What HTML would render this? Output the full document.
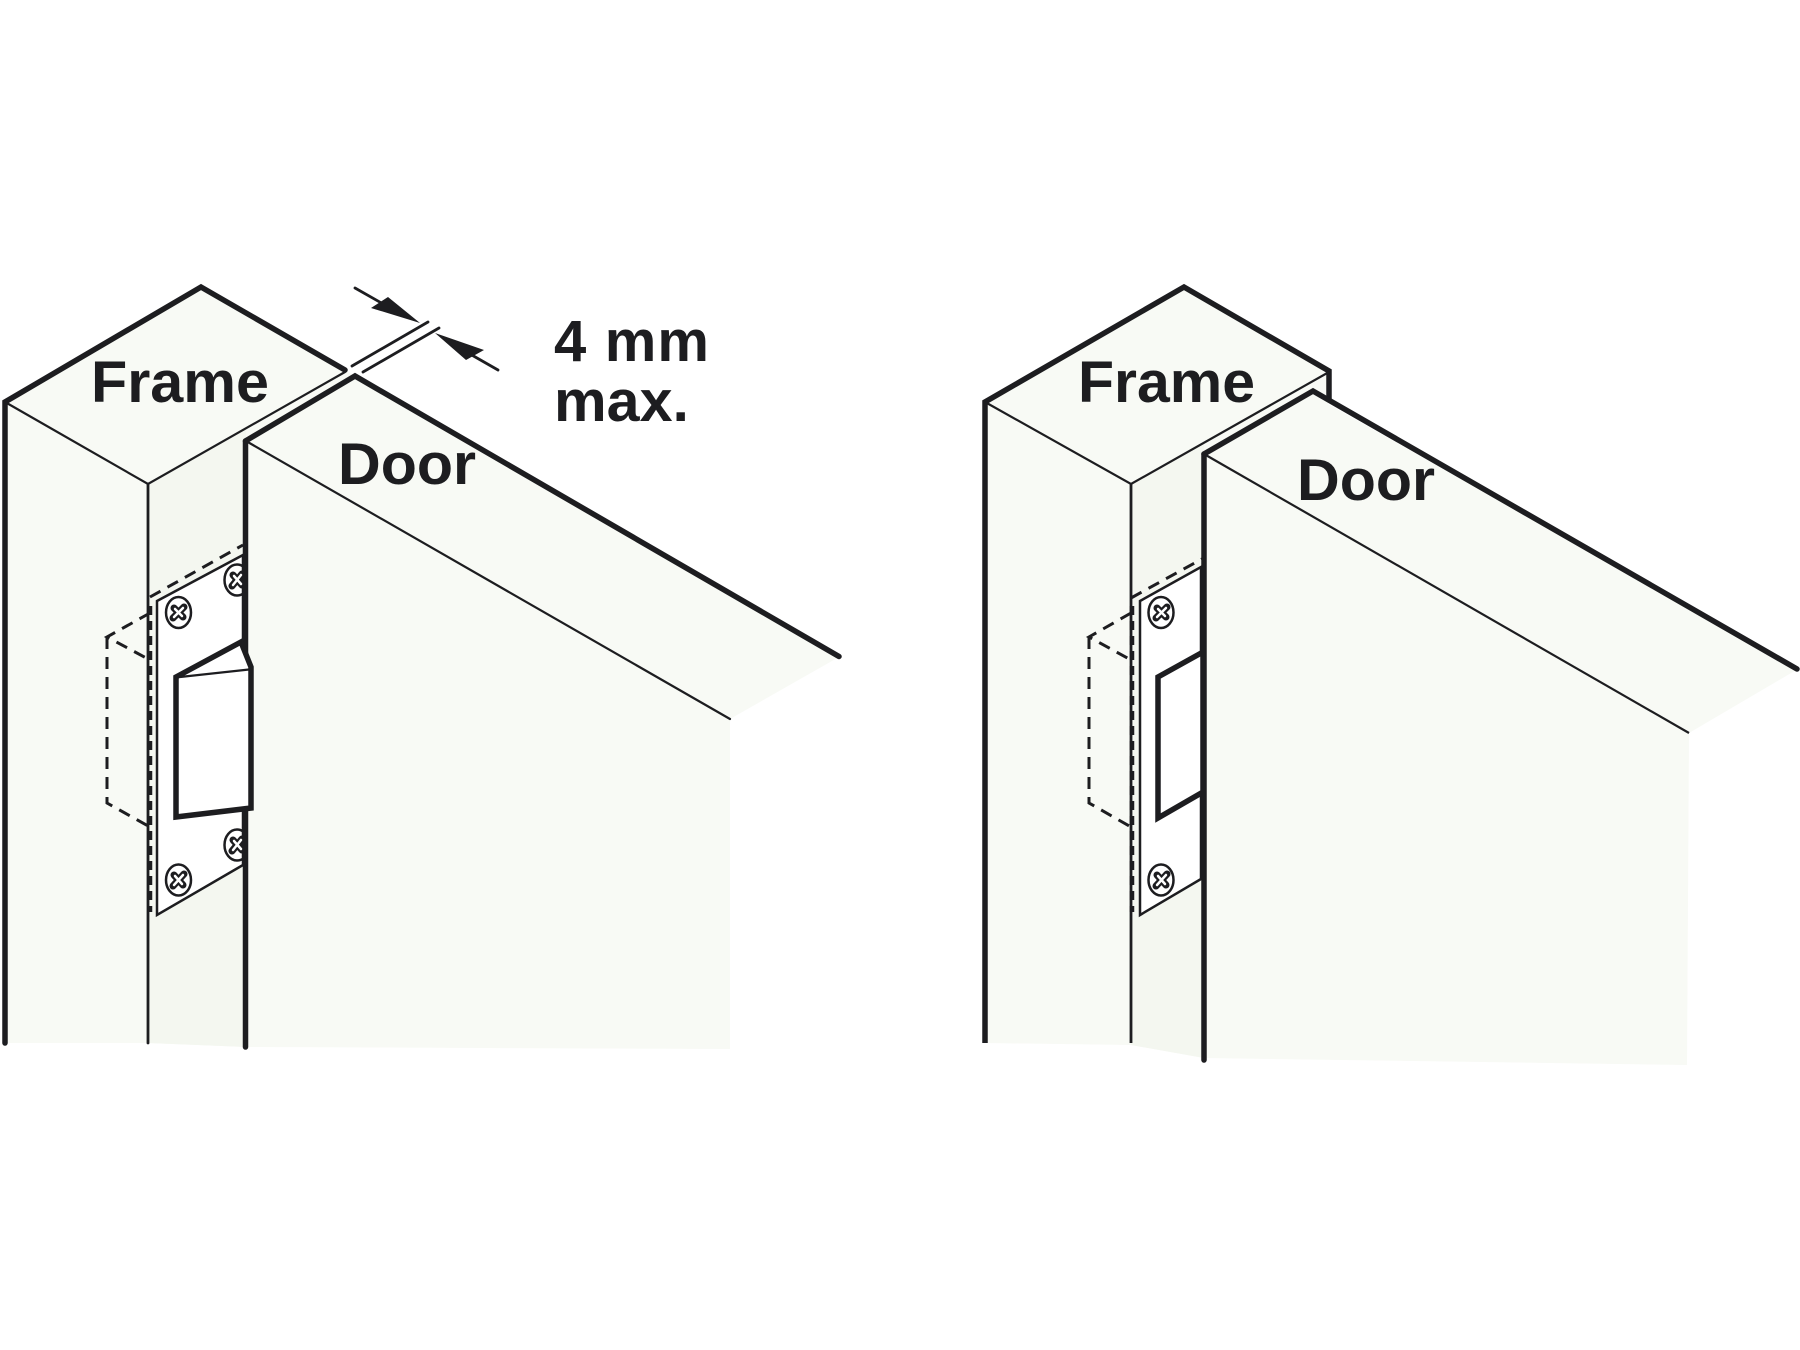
<!DOCTYPE html>
<html>
<head>
<meta charset="utf-8">
<style>
html,body{margin:0;padding:0;background:#fff;}
svg{display:block;}
text{font-family:"Liberation Sans",Arial,sans-serif;font-weight:700;font-size:58px;fill:#1d1d20;}
</style>
</head>
<body>
<svg width="1800" height="1350" viewBox="0 0 1800 1350" xmlns="http://www.w3.org/2000/svg">
<defs>
  <clipPath id="c1"><rect x="100" y="500" width="143" height="450"/></clipPath>
</defs>
<rect width="1800" height="1350" fill="#fff"/>

<!-- LEFT FIGURE -->
<polygon points="5,402 201,287 346,370 354,376 839,657 730,719 730,1049 246,1047 148,1043 5,1043" fill="#f8faf5"/>
<polygon points="148,484 246,428 246,1047 148,1043" fill="#f4f7f0"/>

<!-- dashed recess -->
<g fill="none" stroke="#1d1d20" stroke-width="3" stroke-dasharray="12 8">
  <line x1="150" y1="597" x2="243" y2="545"/>
  <polyline points="150,613 107,637 150,660"/>
  <polyline points="107,637 107,803 150,827"/>
</g>
<line x1="150" y1="606" x2="150" y2="912" stroke="#1d1d20" stroke-width="4.500" stroke-dasharray="9 6"/>

<!-- strike plate -->
<polygon points="157,601 243,555 243,865 157,915" fill="#fff" stroke="#1d1d20" stroke-width="2.500"/>
<g clip-path="url(#c1)">
  <g fill="none" stroke="#1d1d20" stroke-width="2.500">
    <ellipse cx="178.500" cy="612.500" rx="12.500" ry="15.500"/>
    <ellipse cx="178.500" cy="880" rx="12.500" ry="15.500"/>
    <ellipse cx="237" cy="580" rx="12.500" ry="15.500"/>
    <ellipse cx="237" cy="845" rx="12.500" ry="15.500"/>
  </g>
  <g fill="none" stroke="#1d1d20" stroke-width="7" stroke-linecap="round">
    <path d="M173,618L184,607M174,608L183,617"/>
    <path d="M173,886L184,874M174,875L183,885"/>
    <path d="M232,586L242,574M233,575L242,585"/>
    <path d="M232,851L242,839M233,840L242,850"/>
  </g>
  <g fill="none" stroke="#fff" stroke-width="2.500" stroke-linecap="round">
    <path d="M174,617L183,608M175,609L182,616"/>
    <path d="M174,885L183,875M175,876L182,884"/>
    <path d="M233,585L241,575M234,576L241,584"/>
    <path d="M233,850L241,840M234,841L241,849"/>
  </g>
</g>

<!-- frame lines -->
<g fill="none" stroke="#1d1d20" stroke-linecap="round" stroke-linejoin="miter">
  <polyline points="5,1043 5,402 201,287 345,370" stroke-width="5.500"/>
  <polyline points="5,402 148,484 345,372" stroke-width="2.200"/>
  <line x1="148" y1="484" x2="148" y2="1043" stroke-width="2.800"/>
  <!-- door -->
  <line x1="245.500" y1="1047" x2="245.500" y2="441" stroke-width="5.500"/>
  <polyline points="245.500,441 355,376 839,656.500" stroke-width="5.500"/>
  <line x1="246" y1="441" x2="730" y2="719" stroke-width="2.200"/>
</g>

<!-- latch -->
<polygon points="176,677 241,642 251,667 251,808 176,817" fill="#fff" stroke="#1d1d20" stroke-width="5.500"/>
<line x1="180" y1="677" x2="249" y2="669.500" stroke="#1d1d20" stroke-width="2.200"/>

<!-- dimension -->
<g stroke="#1d1d20" stroke-linecap="round" fill="none">
  <line x1="355" y1="288" x2="385" y2="305" stroke-width="2.800"/>
  <line x1="352" y1="366" x2="428" y2="322" stroke-width="2.800"/>
  <line x1="363" y1="372" x2="439" y2="328" stroke-width="2.800"/>
  <line x1="470" y1="354" x2="498" y2="370" stroke-width="2.800"/>
</g>
<polygon points="420,323 388,297 371,308" fill="#1d1d20"/>
<polygon points="435,333 484,350 466,360" fill="#1d1d20"/>

<text x="91" y="402" textLength="178" lengthAdjust="spacingAndGlyphs">Frame</text>
<text x="338" y="484" textLength="138" lengthAdjust="spacingAndGlyphs">Door</text>
<text x="554" y="361" textLength="155" lengthAdjust="spacing">4 mm</text>
<text x="554" y="421" textLength="135" lengthAdjust="spacingAndGlyphs">max.</text>

<!-- RIGHT FIGURE -->
<polygon points="985,402 1184,287 1328,371 1328,404 1798,669 1689,733 1687,1065 1204,1058 1131,1045 985,1043" fill="#f8faf5"/>
<polygon points="1131,484 1204,442 1204,1058 1131,1045" fill="#f4f7f0"/>

<g fill="none" stroke="#1d1d20" stroke-width="3" stroke-dasharray="12 8">
  <line x1="1131" y1="598" x2="1202" y2="559"/>
  <polyline points="1131,613 1089,637 1131,660"/>
  <polyline points="1089,637 1089,803 1131,827"/>
</g>
<line x1="1132" y1="606" x2="1132" y2="912" stroke="#1d1d20" stroke-width="4.500" stroke-dasharray="9 6"/>

<polygon points="1140,601 1201,567 1201,879 1140,915" fill="#fff" stroke="#1d1d20" stroke-width="2.500"/>
<g fill="none" stroke="#1d1d20" stroke-width="2.500">
  <ellipse cx="1161" cy="612.500" rx="12.500" ry="15.500"/>
  <ellipse cx="1161" cy="880" rx="12.500" ry="15.500"/>
</g>
<g fill="none" stroke="#1d1d20" stroke-width="7" stroke-linecap="round">
  <path d="M1156,618L1167,607M1157,608L1166,617"/>
  <path d="M1156,886L1167,874M1157,875L1166,885"/>
</g>
<g fill="none" stroke="#fff" stroke-width="2.500" stroke-linecap="round">
  <path d="M1157,617L1166,608M1158,609L1165,616"/>
  <path d="M1157,885L1166,875M1158,876L1165,884"/>
</g>
<polygon points="1158,677 1203,652 1203,792 1158,818" fill="#fff" stroke="#1d1d20" stroke-width="5.500"/>

<g fill="none" stroke="#1d1d20" stroke-linecap="butt" stroke-linejoin="miter">
  <polyline points="985,1043 985,402 1184,287 1329,371 1329,399" stroke-width="5.500"/>
  <polyline points="985,402 1131,484 1329,372" stroke-width="2.200"/>
  <line x1="1131" y1="484" x2="1131" y2="1043" stroke-width="2.800"/>
  <line x1="1204" y1="454" x2="1204" y2="1060" stroke-width="5.500" stroke-linecap="round"/>
  <polyline points="1204,454 1313,391 1797,669" stroke-width="5.500" stroke-linecap="round"/>
  <line x1="1204" y1="454" x2="1689" y2="733" stroke-width="2.200"/>
</g>

<text x="1078" y="402" textLength="177" lengthAdjust="spacingAndGlyphs">Frame</text>
<text x="1297" y="500" textLength="138" lengthAdjust="spacingAndGlyphs">Door</text>
</svg>
</body>
</html>
